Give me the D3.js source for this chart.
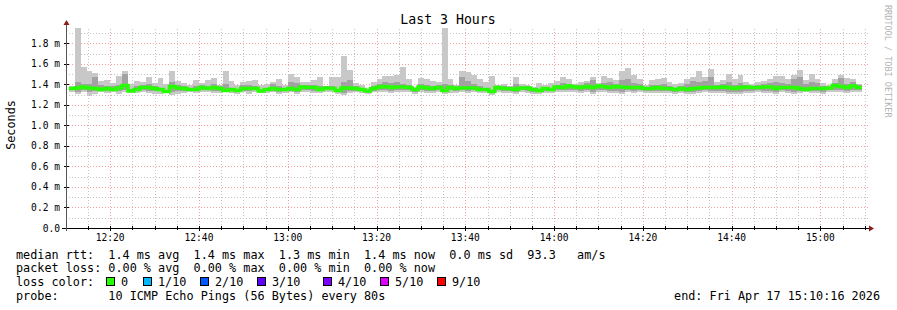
<!DOCTYPE html>
<html>
<head>
<meta charset="utf-8">
<script src="https://cdn.jsdelivr.net/npm/d3@7"></script>
<style>
  html, body { margin: 0; padding: 0; background: #fff; }
  svg { display: block; }
  text { font-family: "DejaVu Sans Mono", monospace; fill: #000; }
</style>
</head>
<body>
<div id="chart"></div>
<script>
// ping data, one entry per 80s step (values in ms)
const maxRtt = [
  1.38,1.95,1.57,1.53,1.51,1.43,1.44,1.41,1.48,1.53,
  1.40,1.43,1.42,1.47,1.41,1.46,1.40,1.53,1.43,1.41,
  1.39,1.44,1.41,1.44,1.46,1.39,1.53,1.43,1.39,1.42,
  1.43,1.44,1.39,1.40,1.42,1.45,1.39,1.50,1.47,1.42,
  1.42,1.44,1.47,1.38,1.47,1.47,1.68,1.54,1.41,1.39,
  1.365,1.42,1.45,1.48,1.48,1.49,1.57,1.45,1.375,1.46,
  1.45,1.43,1.42,1.95,1.45,1.39,1.53,1.52,1.49,1.45,
  1.42,1.48,1.39,1.40,1.38,1.47,1.40,1.39,1.375,1.41,
  1.39,1.41,1.43,1.47,1.45,1.40,1.42,1.43,1.47,1.41,
  1.48,1.46,1.44,1.53,1.56,1.49,1.45,1.39,1.44,1.45,
  1.46,1.42,1.40,1.41,1.45,1.47,1.53,1.47,1.55,1.42,
  1.44,1.50,1.45,1.49,1.42,1.40,1.42,1.43,1.45,1.48,
  1.48,1.45,1.49,1.54,1.44,1.50,1.45,1.41,1.39,1.45,
  1.49,1.46,1.45,1.40
];
const upperRtt = [
  1.37,1.42,1.40,1.40,1.47,1.39,1.38,1.38,1.39,1.50,
  1.36,1.38,1.39,1.40,1.38,1.37,1.35,1.42,1.39,1.38,
  1.37,1.38,1.39,1.38,1.40,1.38,1.40,1.37,1.36,1.39,
  1.39,1.38,1.35,1.37,1.40,1.38,1.37,1.42,1.41,1.39,
  1.39,1.39,1.38,1.38,1.38,1.36,1.42,1.44,1.38,1.37,
  1.35,1.38,1.40,1.42,1.41,1.42,1.40,1.39,1.36,1.40,
  1.39,1.38,1.39,1.40,1.39,1.38,1.47,1.43,1.40,1.38,
  1.37,1.35,1.38,1.38,1.37,1.40,1.38,1.38,1.36,1.36,
  1.37,1.37,1.39,1.41,1.40,1.39,1.39,1.41,1.44,1.39,
  1.41,1.42,1.40,1.44,1.45,1.41,1.40,1.37,1.39,1.39,
  1.40,1.38,1.37,1.38,1.40,1.43,1.42,1.43,1.47,1.39,
  1.40,1.42,1.39,1.41,1.39,1.38,1.39,1.40,1.41,1.42,
  1.41,1.40,1.45,1.47,1.40,1.42,1.41,1.38,1.37,1.41,
  1.46,1.40,1.42,1.39
];
const medianRtt = [
  1.36,1.365,1.375,1.365,1.36,1.35,1.36,1.35,1.365,1.39,
  1.335,1.35,1.37,1.37,1.36,1.35,1.33,1.38,1.365,1.36,
  1.35,1.35,1.37,1.36,1.37,1.36,1.34,1.35,1.34,1.36,
  1.36,1.36,1.335,1.35,1.36,1.35,1.35,1.36,1.35,1.375,
  1.37,1.37,1.35,1.365,1.36,1.34,1.365,1.365,1.36,1.35,
  1.335,1.36,1.375,1.38,1.37,1.375,1.375,1.37,1.35,1.375,
  1.365,1.36,1.37,1.34,1.37,1.36,1.365,1.365,1.365,1.35,
  1.35,1.33,1.37,1.36,1.36,1.35,1.365,1.365,1.35,1.34,
  1.36,1.35,1.375,1.37,1.385,1.375,1.37,1.38,1.37,1.385,
  1.378,1.37,1.38,1.375,1.37,1.37,1.37,1.36,1.36,1.37,
  1.36,1.36,1.35,1.36,1.35,1.36,1.365,1.37,1.37,1.37,
  1.375,1.37,1.36,1.37,1.375,1.37,1.37,1.375,1.375,1.36,
  1.37,1.37,1.37,1.36,1.35,1.36,1.36,1.36,1.365,1.39,
  1.38,1.37,1.385,1.37
];
const lowerRtt = [
  1.345,1.33,1.345,1.325,1.335,1.34,1.335,1.34,1.335,1.345,
  1.325,1.335,1.345,1.34,1.335,1.335,1.325,1.33,1.335,1.34,
  1.34,1.335,1.345,1.345,1.34,1.335,1.33,1.335,1.325,1.34,
  1.335,1.345,1.325,1.335,1.34,1.33,1.34,1.34,1.33,1.345,
  1.35,1.34,1.335,1.345,1.345,1.33,1.32,1.335,1.34,1.335,
  1.325,1.34,1.35,1.35,1.34,1.345,1.35,1.345,1.33,1.345,
  1.34,1.335,1.345,1.325,1.345,1.335,1.345,1.34,1.345,1.335,
  1.34,1.32,1.345,1.335,1.34,1.33,1.345,1.34,1.33,1.325,
  1.34,1.335,1.345,1.35,1.35,1.35,1.34,1.345,1.325,1.35,
  1.345,1.34,1.335,1.33,1.345,1.34,1.345,1.34,1.335,1.34,
  1.34,1.335,1.33,1.34,1.33,1.325,1.335,1.345,1.335,1.34,
  1.335,1.33,1.33,1.325,1.34,1.335,1.345,1.34,1.34,1.33,
  1.345,1.34,1.33,1.335,1.335,1.34,1.335,1.33,1.345,1.35,
  1.345,1.34,1.35,1.345
];
const minRtt = [
  1.33,1.31,1.33,1.29,1.31,1.325,1.315,1.325,1.31,1.325,
  1.32,1.315,1.325,1.32,1.31,1.31,1.315,1.295,1.31,1.315,
  1.325,1.315,1.325,1.33,1.315,1.315,1.325,1.315,1.31,1.325,
  1.31,1.325,1.315,1.32,1.325,1.31,1.32,1.325,1.31,1.33,
  1.33,1.32,1.315,1.325,1.33,1.31,1.30,1.315,1.325,1.315,
  1.31,1.325,1.33,1.33,1.32,1.325,1.33,1.325,1.31,1.325,
  1.32,1.315,1.325,1.305,1.32,1.315,1.325,1.32,1.325,1.315,
  1.32,1.30,1.325,1.315,1.32,1.31,1.325,1.32,1.31,1.31,
  1.32,1.315,1.325,1.33,1.33,1.33,1.32,1.325,1.305,1.33,
  1.325,1.32,1.315,1.31,1.325,1.32,1.325,1.32,1.315,1.32,
  1.32,1.315,1.31,1.32,1.31,1.305,1.315,1.325,1.315,1.32,
  1.315,1.31,1.31,1.305,1.32,1.315,1.325,1.32,1.32,1.31,
  1.325,1.32,1.31,1.315,1.325,1.32,1.315,1.31,1.325,1.33,
  1.325,1.32,1.33,1.325
];

const lossLabels = ['0', '1/10', '2/10', '3/10', '4/10', '5/10', '9/10'];
const lossColors = ['#26ff00', '#00b8ff', '#0059ff', '#5e00ff', '#7e00ff', '#dd00ff', '#ff0000'];

const legendRows = [
  'median rtt:  1.4 ms avg  1.4 ms max  1.3 ms min  1.4 ms now  0.0 ms sd  93.3   am/s',
  'packet loss: 0.00 % avg  0.00 % max  0.00 % min  0.00 % now',
  'loss color:',
  'probe:       10 ICMP Echo Pings (56 Bytes) every 80s'
];
const endLabel = 'end: Fri Apr 17 15:10:16 2026';
const titleText = 'Last 3 Hours';

const END_TIME = new Date(2026, 3, 17, 15, 10, 16);
const START_TIME = new Date(2026, 3, 17, 12, 10, 16);
const FIRST_STEP = new Date(2026, 3, 17, 12, 10, 40);
const STEP_MS = 80 * 1000;

class SmokeChart {
  constructor(aims) {
    this.chartContainer = d3.select(aims);
    this.width = 897;
    this.height = 310;
    this.left = 67;
    this.right = 866;
    this.top = 27;
    this.bottom = 228;
  }

  render() {
    this.createSvg();
    this.initScales();
    this.drawGrid();
    this.drawSmoke();
    this.drawMedian();
    this.drawAxes();
    this.drawTexts();
    this.drawLegend();
  }

  createSvg() {
    this.chart = this.chartContainer.append('svg')
      .attr('width', this.width)
      .attr('height', this.height);
    this.chart.append('rect')
      .attr('width', this.width).attr('height', this.height)
      .attr('fill', '#fff');
  }

  initScales() {
    this.x = d3.scaleTime().domain([START_TIME, END_TIME]).range([this.left, this.right]);
    this.y = d3.scaleLinear().domain([0, 1.96]).range([this.bottom, this.top]);
    this.steps = medianRtt.map((d, i) => new Date(+FIRST_STEP + i * STEP_MS));
  }

  drawGrid() {
    let g = this.chart.append('g').attr('class', 'grid');
    let minorX = this.x.ticks(d3.timeMinute.every(5));
    let majorX = this.x.ticks(d3.timeMinute.every(20));
    let minorY = d3.range(1, 20).map(i => i / 10);
    let majorY = d3.range(1, 10).map(i => i / 5);

    g.selectAll('.vmin').data(minorX).enter().append('line')
      .attr('x1', d => Math.round(this.x(d)) + 0.5).attr('x2', d => Math.round(this.x(d)) + 0.5)
      .attr('y1', this.bottom).attr('y2', this.top + 2)
      .attr('stroke', '#c4c4c4').attr('stroke-dasharray', '1,2');
    g.selectAll('.hmin').data(minorY).enter().append('line')
      .attr('x1', this.left - 1).attr('x2', this.right + 2)
      .attr('y1', d => Math.round(this.y(d)) + 0.5).attr('y2', d => Math.round(this.y(d)) + 0.5)
      .attr('stroke', '#c4c4c4').attr('stroke-dasharray', '1,2');
    g.selectAll('.vmaj').data(majorX).enter().append('line')
      .attr('x1', d => Math.round(this.x(d)) + 0.5).attr('x2', d => Math.round(this.x(d)) + 0.5)
      .attr('y1', this.bottom).attr('y2', this.top + 2)
      .attr('stroke', '#f2a0a0').attr('stroke-dasharray', '1,2');
    g.selectAll('.hmaj').data(majorY).enter().append('line')
      .attr('x1', this.left - 1).attr('x2', this.right + 2)
      .attr('y1', d => Math.round(this.y(d)) + 0.5).attr('y2', d => Math.round(this.y(d)) + 0.5)
      .attr('stroke', '#f2a0a0').attr('stroke-dasharray', '1,2');
  }

  drawSmoke() {
    let g = this.chart.append('g').attr('class', 'smoke');
    let w = d => this.x(new Date(+d + STEP_MS)) - this.x(d);

    g.selectAll('.outer').data(this.steps).enter().append('rect')
      .attr('x', d => this.x(d)).attr('width', w)
      .attr('y', (d, i) => this.y(maxRtt[i]))
      .attr('height', (d, i) => this.y(minRtt[i]) - this.y(maxRtt[i]))
      .attr('fill', '#c8c8c8').attr('shape-rendering', 'crispEdges');

    g.selectAll('.inner').data(this.steps).enter().append('rect')
      .attr('x', d => this.x(d)).attr('width', w)
      .attr('y', (d, i) => this.y(upperRtt[i]))
      .attr('height', (d, i) => this.y(lowerRtt[i]) - this.y(upperRtt[i]))
      .attr('fill', '#a2a2a2').attr('shape-rendering', 'crispEdges');
  }

  drawMedian() {
    let pts = this.steps.map((d, i) => [d, medianRtt[i]]);
    pts.push([new Date(+this.steps[this.steps.length - 1] + STEP_MS), medianRtt[medianRtt.length - 1]]);
    let line = d3.line()
      .x(d => this.x(d[0]))
      .y(d => this.y(d[1]))
      .curve(d3.curveStepAfter);
    this.chart.append('path')
      .attr('d', line(pts))
      .attr('fill', 'none')
      .attr('stroke', lossColors[0])
      .attr('stroke-width', 3.5);
  }

  drawAxes() {
    let g = this.chart.append('g').attr('class', 'axes');
    let yAxisX = this.left - 0.5;
    // ticks on the time axis
    let minorX = this.x.ticks(d3.timeMinute.every(5));
    g.selectAll('.xt').data(minorX).enter().append('line')
      .attr('x1', d => Math.round(this.x(d)) + 0.5).attr('x2', d => Math.round(this.x(d)) + 0.5)
      .attr('y1', this.bottom - 2).attr('y2', d => this.bottom + (d.getMinutes() % 20 === 0 ? 3 : 2))
      .attr('stroke', '#000');
    g.selectAll('.yt').data(d3.range(0, 10).map(i => i / 5)).enter().append('line')
      .attr('x1', this.left - 3).attr('x2', this.left + 2)
      .attr('y1', d => Math.round(this.y(d)) + 0.5).attr('y2', d => Math.round(this.y(d)) + 0.5)
      .attr('stroke', '#000');

    g.append('line')
      .attr('x1', this.left - 5).attr('x2', this.right + 3)
      .attr('y1', this.bottom + 0.5).attr('y2', this.bottom + 0.5)
      .attr('stroke', '#000');
    g.append('line')
      .attr('x1', yAxisX).attr('x2', yAxisX)
      .attr('y1', this.bottom + 3).attr('y2', this.top - 3)
      .attr('stroke', '#555');
    g.append('path')
      .attr('d', `M${yAxisX - 3},${this.top - 2}L${yAxisX + 3},${this.top - 2}L${yAxisX},${this.top - 7}Z`)
      .attr('fill', '#8b1a1a');
    g.append('path')
      .attr('d', `M${this.right + 3},${this.bottom - 2.5}L${this.right + 3},${this.bottom + 3.5}L${this.right + 8},${this.bottom + 0.5}Z`)
      .attr('fill', '#8b1a1a');

    // tick labels
    g.selectAll('.xl').data(this.x.ticks(d3.timeMinute.every(20))).enter().append('text')
      .attr('x', d => this.x(d)).attr('y', this.bottom + 13)
      .attr('text-anchor', 'middle').attr('font-size', '9.6px')
      .text(d3.timeFormat('%H:%M'));
    g.selectAll('.yl').data(d3.range(0, 10).map(i => i / 5)).enter().append('text')
      .attr('x', this.left - 7).attr('y', d => this.y(d) + 3.5)
      .attr('text-anchor', 'end').attr('font-size', '9.6px')
      .text(d => d === 0 ? '0.0' : d3.format('.1f')(d) + ' m');
  }

  drawTexts() {
    this.chart.append('text')
      .attr('x', 448).attr('y', 24)
      .attr('text-anchor', 'middle').attr('font-size', '13.2px')
      .text(titleText);
    this.chart.append('text')
      .attr('transform', 'translate(15,125) rotate(-90)')
      .attr('text-anchor', 'middle').attr('font-size', '11.8px')
      .text('Seconds');
    this.chart.append('text')
      .attr('transform', 'translate(885,5) rotate(90)')
      .attr('font-size', '8.5px')
      .style('fill', '#b4b4b4')
      .text('RRDTOOL / TOBI OETIKER');
  }

  drawLegend() {
    let g = this.chart.append('g').attr('class', 'legend');
    let rowY = [258.5, 272.3, 286.1, 300];
    g.selectAll('.row').data(legendRows).enter().append('text')
      .attr('x', 16).attr('y', (d, i) => rowY[i])
      .attr('font-size', '11.8px')
      .style('white-space', 'pre')
      .attr('xml:space', 'preserve')
      .text(d => d);

    let boxX = [106, 143, 200, 257, 323, 380, 437];
    let item = g.selectAll('.item').data(lossLabels).enter().append('g');
    item.append('rect')
      .attr('x', (d, i) => boxX[i] + 0.5).attr('y', 277.5)
      .attr('width', 8).attr('height', 8)
      .attr('fill', (d, i) => lossColors[i])
      .attr('stroke', '#000');
    item.append('text')
      .attr('x', (d, i) => boxX[i] + 15).attr('y', rowY[2])
      .attr('font-size', '11.8px')
      .text(d => d);

    g.append('text')
      .attr('x', 880).attr('y', rowY[3])
      .attr('text-anchor', 'end')
      .attr('font-size', '11.8px')
      .text(endLabel);
  }
}

new SmokeChart('#chart').render();
</script>
</body>
</html>
